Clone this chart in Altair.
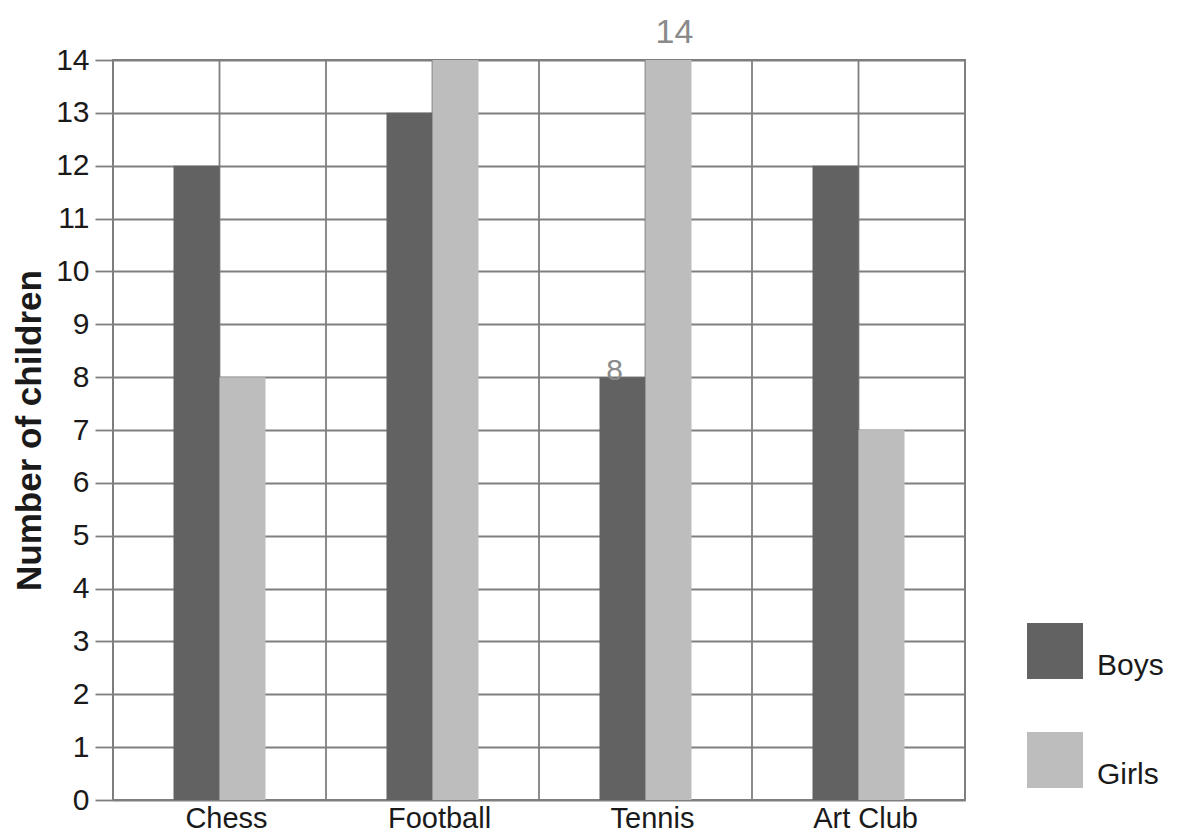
import altair as alt
import pandas as pd

activities = ["Chess", "Football", "Tennis", "Art Club"]
groups = ["Boys", "Girls"]
boys = [12, 13, 8, 12]
girls = [8, 14, 14, 7]
colors = ["#626262", "#bdbdbd"]
y_ticks = list(range(0, 15))

note_top_activity = ["Tennis"]
note_top_group = ["Girls"]
note_top_value = [14]
note_top_text = ["14"]

note_bar_activity = ["Tennis"]
note_bar_group = ["Boys"]
note_bar_value = [8]
note_bar_text = ["8"]

rows = []
for a, b, g in zip(activities, boys, girls):
    rows.append({"activity": a, "group": "Boys", "count": b})
    rows.append({"activity": a, "group": "Girls", "count": g})
df = pd.DataFrame(rows)
grid_df = pd.DataFrame({"activity": activities})
top_df = pd.DataFrame({"activity": note_top_activity, "group": note_top_group,
                       "count": note_top_value, "label": note_top_text})
bar_df = pd.DataFrame({"activity": note_bar_activity, "group": note_bar_group,
                       "count": note_bar_value, "label": note_bar_text})

FONT = "Liberation Sans"
GRID = "#7f7f7f"
TXT = "#1a1a1a"

PLOT_W = 852
PLOT_H = 740
BAND = PLOT_W / len(activities)
BAR_W = 46

x_scale = alt.Scale(domain=activities, paddingInner=0, paddingOuter=0)
x_axis = alt.Axis(title=None, labelFontSize=29, labelFont=FONT, labelColor=TXT,
                  ticks=False, domain=False, labelPadding=4, labelAngle=0, grid=False,
                  labelOffset=7)


def xenc(band=None):
    if band is None:
        return alt.X("activity:N", scale=x_scale, sort=activities, axis=x_axis)
    return alt.X("activity:N", scale=x_scale, sort=activities, axis=x_axis, bandPosition=band)


xoff = alt.XOffset("group:N", scale=alt.Scale(
    domain=groups, paddingInner=0, paddingOuter=0,
    range=[BAND / 2 - BAR_W, BAND / 2 + BAR_W]))

y_enc = alt.Y(
    "count:Q",
    scale=alt.Scale(domain=[0, 14], nice=False),
    axis=alt.Axis(values=y_ticks, title="Number of children", titleFontSize=35,
                  titleFont=FONT, titleFontWeight="bold", titleColor=TXT,
                  titleX=-73, titleY=PLOT_H / 2, titleAngle=270, titleBaseline="alphabetic",
                  titleAlign="center", labelFontSize=30, labelFont=FONT,
                  labelColor=TXT, tickSize=18, tickColor=GRID, tickWidth=1.8,
                  labelPadding=6, domain=False, gridColor=GRID, gridWidth=1.8,
                  gridOpacity=1),
)

grid_start = alt.Chart(grid_df).mark_rule(color=GRID, strokeWidth=1.8).encode(x=xenc(0))
grid_mid = alt.Chart(grid_df).mark_rule(color=GRID, strokeWidth=1.8).encode(x=xenc(0.5))

bars = alt.Chart(df).mark_bar().encode(
    x=xenc(),
    xOffset=xoff,
    y=y_enc,
    color=alt.Color(
        "group:N",
        scale=alt.Scale(domain=groups, range=colors),
        legend=alt.Legend(title=None, orient="none", legendX=914, legendY=563,
                          symbolType="square", symbolSize=3136, symbolStrokeWidth=0,
                          symbolOpacity=1, labelFontSize=30, labelFont=FONT,
                          labelColor=TXT, labelBaseline="top", rowPadding=51,
                          labelOffset=14, padding=0),
    ),
)

note_top = alt.Chart(top_df).mark_text(font=FONT, fontSize=34, color="#8a8a8a",
                                       baseline="bottom", dy=-10, dx=6).encode(
    x=xenc(), xOffset=xoff, y="count:Q", text="label:N")
note_bar = alt.Chart(bar_df).mark_text(font=FONT, fontSize=30, color="#8a8a8a",
                                       baseline="middle", dx=-8, dy=-6).encode(
    x=xenc(), xOffset=xoff, y="count:Q", text="label:N")

chart = alt.layer(grid_start, grid_mid, bars, note_top, note_bar).properties(
    width=PLOT_W, height=PLOT_H,
    autosize=alt.AutoSizeParams(type="none"),
    padding={"left": 105, "top": 52, "right": 209, "bottom": 35},
    background="white",
).configure_view(stroke=GRID, strokeWidth=2)

chart.save("out.html", embed_options={"renderer": "svg", "actions": False})
